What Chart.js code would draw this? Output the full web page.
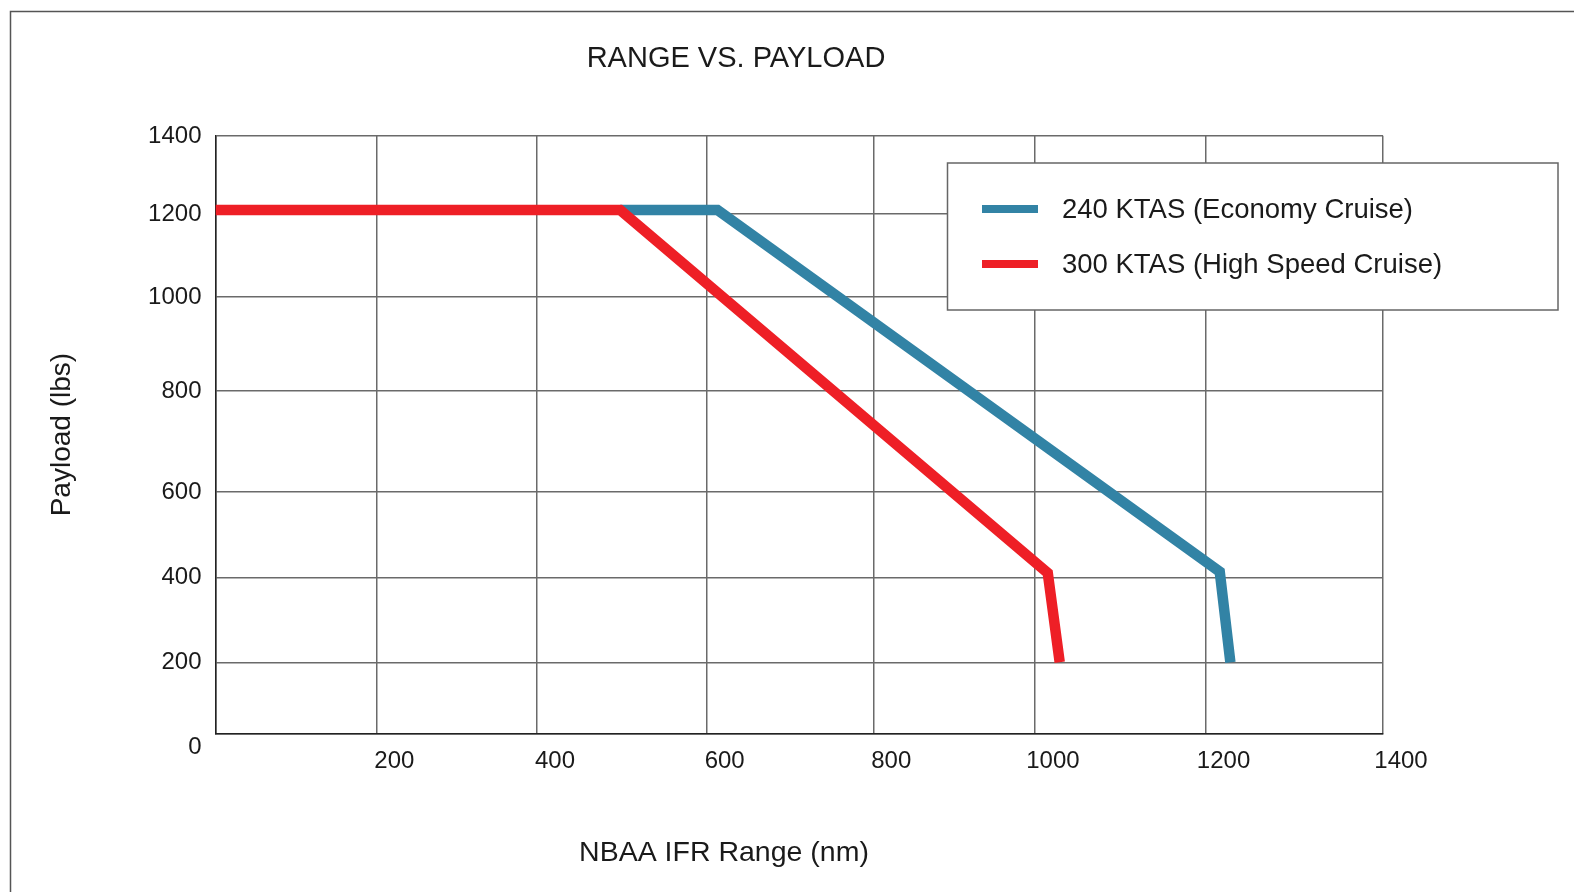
<!DOCTYPE html>
<html>
<head>
<meta charset="utf-8">
<title>Range vs. Payload</title>
<script src="https://cdn.jsdelivr.net/npm/chart.js@4.4.1/dist/chart.umd.min.js"></script>
<style>
  html, body { margin: 0; padding: 0; background: #fff; }
  canvas { display: block; }
</style>
</head>
<body>
<canvas id="rangeChart" width="1574" height="892"></canvas>
<script>
// values
var chartTitle = 'RANGE VS. PAYLOAD';
var xTitle = 'NBAA IFR Range (nm)';
var yTitle = 'Payload (lbs)';

var rangeTicks = [0, 200, 400, 600, 800, 1000, 1200, 1400];
var payloadTicks = [0, 200, 400, 600, 800, 1000, 1200, 1400];

var seriesLabels = ['240 KTAS (Economy Cruise)', '300 KTAS (High Speed Cruise)'];

var economyRange = [498, 613, 1216, 1228];
var economyPayload = [1210, 1210, 413, 200];

var highSpeedRange = [0, 498, 1015, 1029];
var highSpeedPayload = [1210, 1210, 410, 200];

var FONT = '"Liberation Sans", Arial, Helvetica, sans-serif';
var INK = '#1a1a1a';

// the printed grid is not evenly spaced, so each axis maps its tick
// values piecewise onto the axis (stopPositions = fraction of the axis)
class PrintedScale extends Chart.LinearScale {
  getPixelForValue(value) {
    var v = this.options.stopValues, p = this.options.stopPositions;
    var i = 1;
    while (i < v.length - 1 && value > v[i]) i++;
    var t = (value - v[i - 1]) / (v[i] - v[i - 1]);
    return this.getPixelForDecimal(p[i - 1] + t * (p[i] - p[i - 1]));
  }
  getValueForPixel(pixel) {
    var v = this.options.stopValues, p = this.options.stopPositions;
    var d = this.getDecimalForPixel(pixel);
    var i = 1;
    while (i < p.length - 1 && d > p[i]) i++;
    var t = (d - p[i - 1]) / (p[i] - p[i - 1]);
    return v[i - 1] + t * (v[i] - v[i - 1]);
  }
}
PrintedScale.id = 'printed';
PrintedScale.defaults = Chart.LinearScale.defaults;
Chart.register(PrintedScale);

function toPoints(xs, ys) {
  return xs.map(function (x, i) { return { x: x, y: ys[i] }; });
}

var pagePlugin = {
  id: 'page',
  beforeDraw: function (chart) {
    var ctx = chart.ctx;
    ctx.save();
    ctx.fillStyle = '#fff';
    ctx.fillRect(0, 0, chart.width, chart.height);

    // page frame
    ctx.strokeStyle = '#555';
    ctx.lineWidth = 1.5;
    ctx.beginPath();
    ctx.moveTo(10.5, chart.height);
    ctx.lineTo(10.5, 11.5);
    ctx.lineTo(chart.width, 11.5);
    ctx.stroke();

    ctx.fillStyle = INK;
    ctx.textAlign = 'center';
    ctx.textBaseline = 'middle';
    ctx.font = '29px ' + FONT;
    ctx.fillText(chartTitle, 736, 59);
    ctx.font = '28.5px ' + FONT;
    ctx.fillText(xTitle, 724, 853);
    ctx.restore();
  },
  afterDraw: function (chart) {
    // boxed legend sitting over the top right of the plot
    var ctx = chart.ctx;
    ctx.save();
    ctx.fillStyle = '#fff';
    ctx.fillRect(947.5, 163, 610.5, 147);
    ctx.strokeStyle = '#666';
    ctx.lineWidth = 1.5;
    ctx.strokeRect(947.5, 163, 610.5, 147);
    ctx.font = '27.5px ' + FONT;
    ctx.textAlign = 'left';
    ctx.textBaseline = 'middle';
    chart.data.datasets.forEach(function (ds, i) {
      var y = 209 + i * 55;
      ctx.fillStyle = ds.borderColor;
      ctx.fillRect(982, y - 4, 56, 8);
      ctx.fillStyle = INK;
      ctx.fillText(ds.label, 1062, y + 1);
    });
    ctx.restore();
  }
};

var gridStyle = { color: '#6a6a6a', lineWidth: 1.5, drawTicks: false };
var borderStyle = { color: '#222', width: 1.5 };

new Chart(document.getElementById('rangeChart'), {
  type: 'line',
  data: {
    datasets: [{
      label: seriesLabels[0],
      data: toPoints(economyRange, economyPayload),
      borderColor: '#3283a5',
      order: 2
    }, {
      label: seriesLabels[1],
      data: toPoints(highSpeedRange, highSpeedPayload),
      borderColor: '#ee1f26',
      order: 1
    }]
  },
  options: {
    responsive: false,
    devicePixelRatio: 1,
    animation: false,
    events: [],
    layout: { padding: { top: 135.7, right: 191, bottom: 0, left: 0 } },
    elements: {
      line: { borderWidth: 10.5, tension: 0, fill: false, borderCapStyle: 'butt', borderJoinStyle: 'miter' },
      point: { radius: 0 }
    },
    plugins: {
      legend: { display: false },
      tooltip: { enabled: false },
      title: { display: false }
    },
    scales: {
      x: {
        type: 'printed',
        min: 0,
        max: 1400,
        stopValues: rangeTicks,
        stopPositions: [0, 0.1378, 0.2754, 0.4207, 0.5634, 0.7019, 0.8480, 1],
        afterBuildTicks: function (scale) {
          scale.ticks = rangeTicks.map(function (v) { return { value: v }; });
        },
        afterFit: function (scale) { scale.height = 158.5; },
        grid: gridStyle,
        border: borderStyle,
        ticks: {
          autoSkip: false,
          maxRotation: 0,
          padding: 13.5,
          labelOffset: 18,
          color: INK,
          font: { family: FONT, size: 24 },
          callback: function (v) { return v === 0 ? '' : String(v); }
        }
      },
      y: {
        type: 'printed',
        min: 0,
        max: 1400,
        stopValues: payloadTicks,
        stopPositions: [0, 0.1191, 0.2613, 0.4040, 0.5738, 0.7307, 0.8690, 1],
        afterBuildTicks: function (scale) {
          scale.ticks = payloadTicks.map(function (v) { return { value: v }; });
        },
        afterFit: function (scale) { scale.width = 215.5; },
        grid: gridStyle,
        border: borderStyle,
        title: {
          display: true,
          text: yTitle,
          color: INK,
          font: { family: FONT, size: 28 },
          padding: { top: 45, bottom: 0 }
        },
        ticks: {
          padding: 14,
          labelOffset: 0.5,
          color: INK,
          font: { family: FONT, size: 24, lineHeight: 1.1 },
          // the printed zero sits under the corner, so push it down a line
          callback: function (v) { return v === 0 ? ['', '0'] : String(v); }
        }
      }
    }
  },
  plugins: [pagePlugin]
});
</script>
</body>
</html>
